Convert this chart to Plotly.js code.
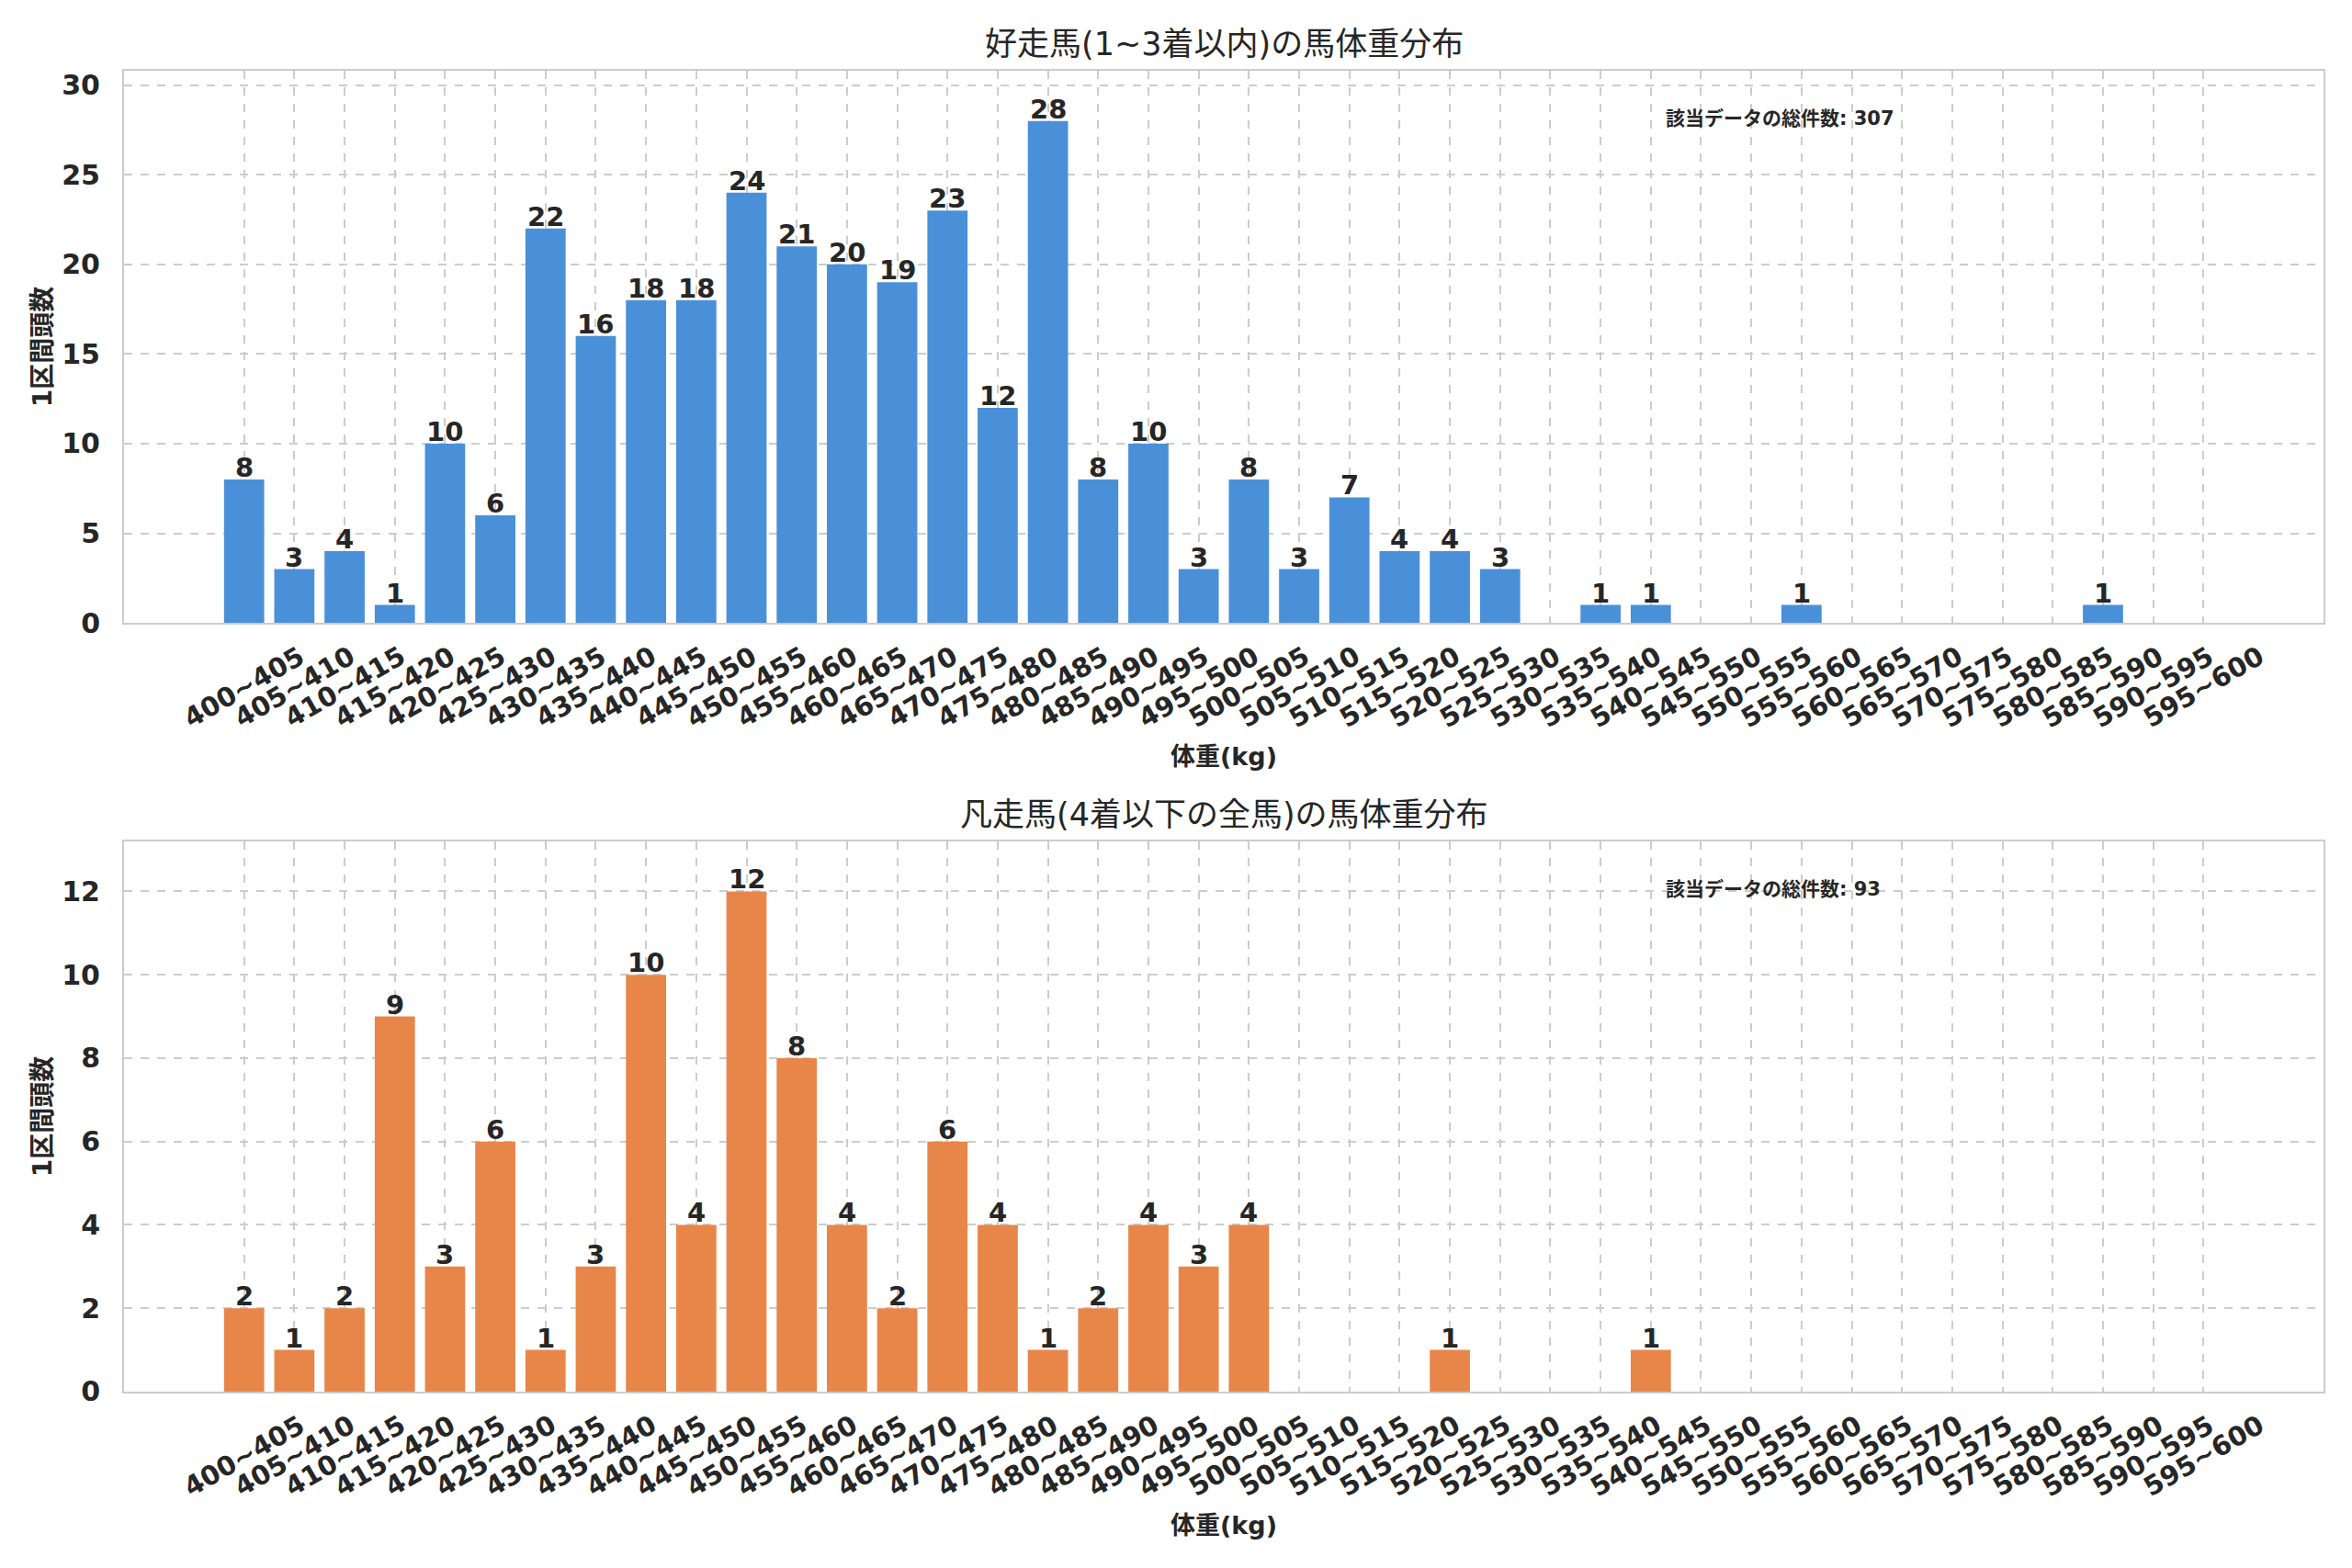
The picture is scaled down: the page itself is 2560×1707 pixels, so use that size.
<!DOCTYPE html>
<html>
<head>
<meta charset="utf-8">
<script src="https://cdn.plot.ly/plotly-3.0.1.min.js"></script>
<style>html,body{margin:0;padding:0;background:#fff;}#chart{width:2560px;height:1707px;}</style>
</head>
<body>
<div id="chart"></div>
<script>
// ---- data ----
const binLabels = ["400~405","405~410","410~415","415~420","420~425","425~430","430~435","435~440","440~445","445~450",
  "450~455","455~460","460~465","465~470","470~475","475~480","480~485","485~490","490~495","495~500",
  "500~505","505~510","510~515","515~520","520~525","525~530","530~535","535~540","540~545","545~550",
  "550~555","555~560","560~565","565~570","570~575","575~580","580~585","585~590","590~595","595~600"];
const countsTop = [8,3,4,1,10,6,22,16,18,18,24,21,20,19,23,12,28,8,10,3,8,3,7,4,4,3,0,1,1,0,0,1,0,0,0,0,0,1,0,0];
const countsBottom = [2,1,2,9,3,6,1,3,10,4,12,8,4,2,6,4,1,2,4,3,4,0,0,0,1,0,0,0,1,0,0,0,0,0,0,0,0,0,0,0];
const titleTop = "好走馬(1~3着以内)の馬体重分布";
const titleBottom = "凡走馬(4着以下の全馬)の馬体重分布";
const xTitle = "体重(kg)";
const yTitle = "1区間頭数";
const totalLabel = "該当データの総件数";
const totalTop = 307;
const totalBottom = 93;
const yTicksTop = [0,5,10,15,20,25,30];
const yTicksBottom = [0,2,4,6,8,10,12];

// ---- style ----
const FONT = "DejaVu Sans, Noto Sans CJK JP, sans-serif";
const TXT = "#262626";
const BLUE = "#4A90D9";
const ORANGE = "#E8864A";
const GRID = "#cccccc";

function barTrace(vals, color, xa, ya) {
  return {
    type: "bar", x: binLabels, y: vals, xaxis: xa, yaxis: ya,
    marker: {color: color, line: {width: 0}},
    width: 0.8,
    hoverinfo: "x+y", showlegend: false
  };
}

const data = [
  barTrace(countsTop, BLUE, "x", "y"),
  barTrace(countsBottom, ORANGE, "x2", "y2")
];

function xAxis(anchor) {
  return {
    type: "category", categoryorder: "array", categoryarray: binLabels,
    range: [-2.39, 41.39], anchor: anchor,
    showgrid: true, gridcolor: GRID, griddash: "dash", gridwidth: 2,
    showline: true, mirror: true, linecolor: GRID, linewidth: 2,
    showticklabels: false, ticks: "", zeroline: false,
    title: {text: xTitle, font: {family: FONT, size: 27, color: TXT, weight: "bold"}, standoff: 135}
  };
}
function yAxis(anchor, domain, range, tv) {
  return {
    domain: domain, anchor: anchor, range: range,
    tickmode: "array", tickvals: tv,
    showgrid: true, gridcolor: GRID, griddash: "dash", gridwidth: 2,
    showline: true, mirror: true, linecolor: GRID, linewidth: 2,
    zeroline: false, ticks: "", ticklabelstandoff: 18,
    tickfont: {family: FONT, size: 30, color: TXT, weight: "bold"},
    title: {text: yTitle, font: {family: FONT, size: 28, color: TXT, weight: "bold"}, standoff: 2}
  };
}

const annotations = [];
function addTickLabels(xref, yref) {
  binLabels.forEach(lbl => {
    annotations.push({
      x: lbl, xref: xref, y: 0, yref: yref + " domain", yshift: -70,
      xanchor: "center", yanchor: "middle", textangle: -30, showarrow: false,
      text: lbl, font: {family: FONT, size: 29, color: TXT, weight: "bold"}
    });
  });
}
addTickLabels("x", "y");
addTickLabels("x2", "y2");

function addValueLabels(vals, xref, yref) {
  vals.forEach((v, i) => {
    if (v > 0) {
      annotations.push({
        x: binLabels[i], xref: xref, y: v, yref: yref, yshift: -6,
        xanchor: "center", yanchor: "bottom", showarrow: false,
        text: String(v), font: {family: FONT, size: 29, color: TXT, weight: "bold"}
      });
    }
  });
}
addValueLabels(countsTop, "x", "y");
addValueLabels(countsBottom, "x2", "y2");

[[titleTop, "x", "y"], [titleBottom, "x2", "y2"]].forEach(([t, xr, yr]) => {
  annotations.push({
    x: 0.5, xref: xr + " domain", y: 1, yref: yr + " domain", yshift: 7,
    xanchor: "center", yanchor: "bottom", showarrow: false,
    text: t, font: {family: FONT, size: 35, color: TXT}
  });
});
[[totalTop, "x", "y"], [totalBottom, "x2", "y2"]].forEach(([n, xr, yr]) => {
  annotations.push({
    x: 0.7, xref: xr + " domain", y: 0.913, yref: yr + " domain",
    xanchor: "left", yanchor: "middle", showarrow: false,
    text: totalLabel + ": " + n, font: {family: FONT, size: 21, color: TXT, weight: "bold"}
  });
});

const layout = {
  width: 2560, height: 1707,
  paper_bgcolor: "#ffffff", plot_bgcolor: "#ffffff",
  margin: {l: 135, r: 31, t: 77, b: 192},
  font: {family: FONT, color: TXT},
  bargap: 0.2,
  xaxis: xAxis("y"),
  yaxis: yAxis("x", [0.582, 1.0], [0, 30.8], yTicksTop),
  xaxis2: xAxis("y2"),
  yaxis2: yAxis("x2", [0, 0.4166], [0, 13.2], yTicksBottom),
  annotations: annotations
};

Plotly.newPlot("chart", data, layout, {staticPlot: true});
</script>
</body>
</html>
